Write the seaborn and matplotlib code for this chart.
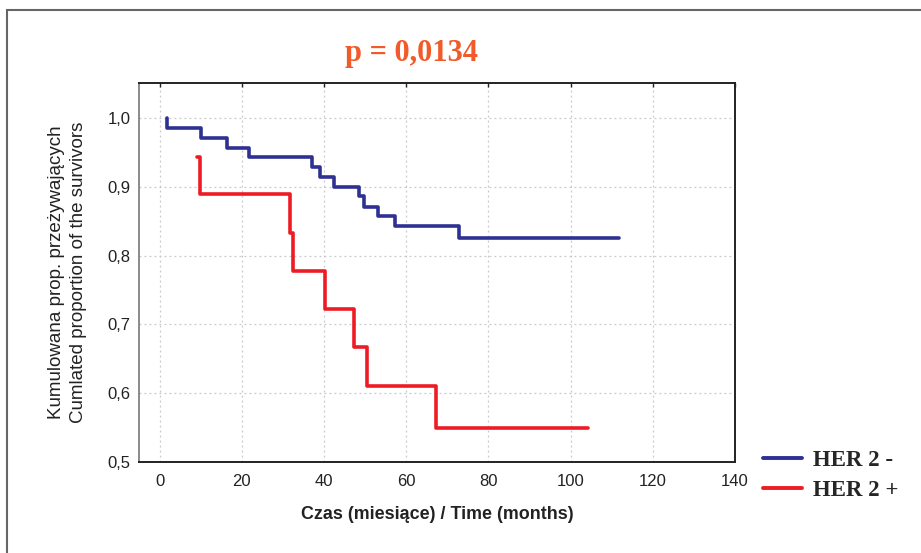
import matplotlib
matplotlib.use("Agg")
import matplotlib.pyplot as plt
import matplotlib.patches as mpatches
from matplotlib.lines import Line2D
from matplotlib.ticker import FuncFormatter
import seaborn as sns
import pandas as pd

# Data (Kaplan-Meier step curves)
her2_neg_t = [1.7, 1.7, 10.2, 16.3, 21.8, 37.2, 39.0, 42.4, 48.5, 49.8, 53.2, 57.2, 72.8, 111.7]
her2_neg_s = [1.0, 0.986, 0.971, 0.957, 0.943, 0.929, 0.914, 0.900, 0.886, 0.871, 0.857, 0.843, 0.825, 0.825]
her2_pos_t = [9.2, 9.8, 31.7, 32.5, 40.2, 47.2, 50.4, 67.2, 104.2]
her2_pos_s = [0.944, 0.889, 0.833, 0.778, 0.722, 0.667, 0.611, 0.550, 0.550]
groups = ["HER 2 -", "HER 2 +"]
colors = ["#2e3192", "#ed1c24"]
x_ticks = [0, 20, 40, 60, 80, 100, 120, 140]
y_ticks = [0.5, 0.6, 0.7, 0.8, 0.9, 1.0]
p_text = "p = 0,0134"

df = pd.concat([
    pd.DataFrame({"t": her2_neg_t, "s": her2_neg_s, "g": groups[0]}),
    pd.DataFrame({"t": her2_pos_t, "s": her2_pos_s, "g": groups[1]}),
], ignore_index=True)

sns.set_style("white")
plt.rcParams["font.family"] = ["Liberation Sans", "DejaVu Sans"]

fig = plt.figure(figsize=(9.21, 5.53), dpi=100)
ax = fig.add_axes([139/921, 1-462/553, (735-139)/921, (462-83)/553])

sns.lineplot(data=df, x="t", y="s", hue="g", palette=colors, hue_order=groups,
             estimator=None, sort=False, drawstyle="steps-post",
             linewidth=2.6, legend=False, ax=ax)

ax.set_xlim(-5, 140)
ax.set_ylim(0.5, 1.051)
ax.set_xticks(x_ticks)
ax.set_yticks(y_ticks)
ax.yaxis.set_major_formatter(FuncFormatter(lambda v, p: f"{v:.1f}".replace(".", ",")))
ax.grid(True, color="#c8c8c8", linestyle=(0, (1.5, 2.5)), linewidth=0.9)
ax.tick_params(direction="in", length=3, width=1, labelsize=12, colors="#222222",
               top=True, right=False)
ax.tick_params(axis="x", pad=9)
ax.tick_params(axis="y", pad=6)
for side in ["top", "right", "bottom"]:
    ax.spines[side].set_color("#222222")
    ax.spines[side].set_linewidth(1.4)
ax.spines["left"].set_color("#777777")
ax.spines["left"].set_linewidth(1.2)

ax.set_xlabel("Czas (miesiące) / Time (months)", fontsize=12.9, fontweight="bold",
              color="#222222", labelpad=12)
ax.set_ylabel("Kumulowana prop. przeżywających\nCumlated proportion of the survivors",
              fontsize=13.5, color="#222222", labelpad=15, linespacing=1.35)

fig.text(411/921, 1-53/553, p_text, ha="center", va="center", fontsize=22,
         fontweight="bold", color="#f15a29", family=["Liberation Serif", "DejaVu Serif"])

handles = [Line2D([0], [0], color=c, linewidth=2.8) for c in colors]
fig.legend(handles, groups, loc="upper left", bbox_to_anchor=(742/921, 1-429/553),
           frameon=False, handlelength=1.7, handletextpad=0.5, labelspacing=0.42,
           prop={"family": ["Liberation Serif", "DejaVu Serif"], "weight": "bold", "size": 16.5})

frame = mpatches.Rectangle((7/921, -0.1), 1.2, 1-10/553 + 0.1, transform=fig.transFigure,
                           fill=False, edgecolor="#666666", linewidth=1.5, clip_on=False)
fig.patches.append(frame)

fig.savefig("out.png", dpi=100)
